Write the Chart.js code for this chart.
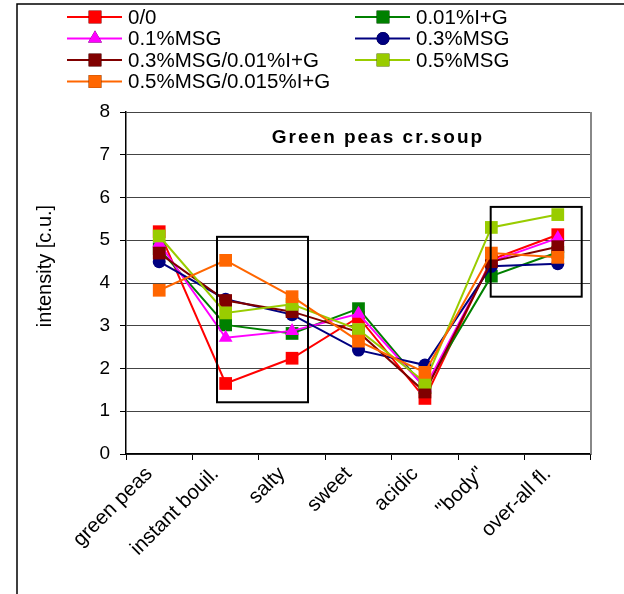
<!DOCTYPE html>
<html>
<head>
<meta charset="utf-8">
<script src="https://cdn.jsdelivr.net/npm/chart.js@4"></script>
<style>
  html, body { margin: 0; padding: 0; background: #fff; }
  #wrap { width: 624px; height: 594px; }
</style>
</head>
<body>
<div id="wrap"><canvas id="c" width="624" height="594"></canvas></div>
<script>
const categories = ['green peas', 'instant bouil.', 'salty', 'sweet', 'acidic', '"body"', 'over-all fl.']

const plain      = [5.2, 1.65, 2.24, 3.2, 1.3, 4.55, 5.13]
const ig001      = [4.8, 3.02, 2.82, 3.4, 1.55, 4.16, 4.72]
const msg01      = [4.93, 2.72, 2.88, 3.28, 1.55, 4.5, 5.05]
const msg03      = [4.5, 3.62, 3.26, 2.43, 2.08, 4.39, 4.45]
const msg03ig001 = [4.7, 3.59, 3.33, 2.85, 1.45, 4.5, 4.85]
const msg05      = [5.1, 3.3, 3.5, 2.91, 1.68, 5.3, 5.6]
const msg05ig015 = [3.83, 4.53, 3.68, 2.64, 1.91, 4.7, 4.6]

const seriesNames = ['0/0', '0.01%I+G', '0.1%MSG', '0.3%MSG', '0.3%MSG/0.01%I+G', '0.5%MSG', '0.5%MSG/0.015%I+G']
const seriesData = [plain, ig001, msg01, msg03, msg03ig001, msg05, msg05ig015]
const seriesColors = ['#FF0000', '#008000', '#FF00FF', '#000080', '#800000', '#99CC00', '#FF6600']
const seriesMarkers = ['rect', 'rect', 'triangle', 'circle', 'rect', 'rect', 'rect']

// highlighted regions: [xFrom, xTo, yFrom, yTo] in category index / value units
const boxes = [
  [0.87, 2.24, 1.21, 5.08],
  [4.99, 6.36, 3.68, 5.78]
]

function markerRadius(m){
  if(m === 'rect') return 9
  if(m === 'circle') return 6.5
  return 8
}

const datasets = seriesNames.map((name, i) => ({
  label: name,
  data: seriesData[i],
  borderColor: seriesColors[i],
  backgroundColor: seriesColors[i],
  pointBackgroundColor: seriesColors[i],
  pointBorderColor: seriesColors[i],
  pointBorderWidth: 0,
  pointStyle: seriesMarkers[i],
  pointRadius: markerRadius(seriesMarkers[i]),
  borderWidth: 2,
  tension: 0,
  order: seriesNames.length - i
}))

const framePlugin = {
  id: 'frame',
  beforeDraw(chart){
    const {ctx} = chart
    ctx.save()
    ctx.fillStyle = '#fff'
    ctx.fillRect(0, 0, chart.width, chart.height)
    ctx.strokeStyle = '#000'
    ctx.lineWidth = 1.5
    ctx.beginPath()
    ctx.moveTo(17, chart.height)
    ctx.lineTo(17, 4)
    ctx.lineTo(chart.width, 4)
    ctx.stroke()
    ctx.restore()
  },
  afterDraw(chart){
    const {ctx, chartArea} = chart
    const x = chart.scales.x, y = chart.scales.y
    ctx.save()
    // right border of plot
    ctx.strokeStyle = '#888'
    ctx.lineWidth = 2
    ctx.beginPath()
    ctx.moveTo(chartArea.right, chartArea.top)
    ctx.lineTo(chartArea.right, chartArea.bottom)
    ctx.stroke()
    // boxes
    ctx.strokeStyle = '#000'
    ctx.lineWidth = 2
    boxes.forEach(b => {
      const x1 = x.getPixelForValue(b[0]), x2 = x.getPixelForValue(b[1])
      const y1 = y.getPixelForValue(b[3]), y2 = y.getPixelForValue(b[2])
      ctx.strokeRect(x1, y1, x2 - x1, y2 - y1)
    })
    // y axis title
    ctx.fillStyle = '#000'
    ctx.font = '20px "Liberation Sans", Arial, sans-serif'
    ctx.textAlign = 'center'
    ctx.textBaseline = 'middle'
    ctx.save()
    ctx.translate(45, 266)
    ctx.rotate(-Math.PI / 2)
    ctx.fillText('intensity [c.u.]', 0, 0)
    ctx.restore()
    // title inside plot
    ctx.font = 'bold 19px "Liberation Sans", Arial, sans-serif'
    if('letterSpacing' in ctx) ctx.letterSpacing = '2px'
    ctx.fillText('Green peas cr.soup', 378, 138)
    if('letterSpacing' in ctx) ctx.letterSpacing = '0px'
    // legend in two columns
    ctx.font = '20.5px "Liberation Sans", Arial, sans-serif'
    ctx.textAlign = 'left'
    const rows = [17, 38.5, 60, 81.5]
    const cols = [67, 355]
    chart.data.datasets.forEach((ds, i) => {
      const cx = cols[i % 2], cy = rows[Math.floor(i / 2)]
      ctx.strokeStyle = ds.borderColor
      ctx.lineWidth = 2
      ctx.beginPath()
      ctx.moveTo(cx, cy)
      ctx.lineTo(cx + 55, cy)
      ctx.stroke()
      Chart.helpers.drawPoint(ctx, {
        pointStyle: ds.pointStyle,
        radius: ds.pointRadius,
        borderWidth: 0,
        rotation: 0
      }, cx + 28, cy)
      ctx.fillStyle = ds.backgroundColor
      ctx.fill()
      ctx.fillStyle = '#000'
      ctx.fillText(ds.label, cx + 61, cy + 1)
    })
    ctx.restore()
  }
}

Chart.defaults.font.family = '"Liberation Sans", Arial, sans-serif'
Chart.defaults.color = '#000'

new Chart(document.getElementById('c'), {
  type: 'line',
  data: { labels: categories, datasets: datasets },
  options: {
    responsive: false,
    animation: false,
    devicePixelRatio: 1,
    layout: { padding: { top: 112, right: 33, left: 17, bottom: 0 } },
    plugins: { legend: { display: false }, tooltip: { enabled: false } },
    scales: {
      x: {
        offset: true,
        grid: { offset: true, drawOnChartArea: false, color: '#000', tickLength: 6, tickColor: '#000' },
        border: { color: '#000', width: 1.5 },
        ticks: { font: { size: 20.5 }, minRotation: 45, maxRotation: 45, padding: 2, labelOffset: -10 },
        afterFit(scale){ scale.height = 140 }
      },
      y: {
        min: 0,
        max: 8,
        ticks: { stepSize: 1, font: { size: 19 }, padding: 10 },
        grid: { color: '#444', lineWidth: 1, tickLength: 6, tickColor: '#000' },
        border: { color: '#000', width: 1.5 },
        afterFit(scale){ scale.width = 109 }
      }
    }
  },
  plugins: [framePlugin]
})
</script>
</body>
</html>
